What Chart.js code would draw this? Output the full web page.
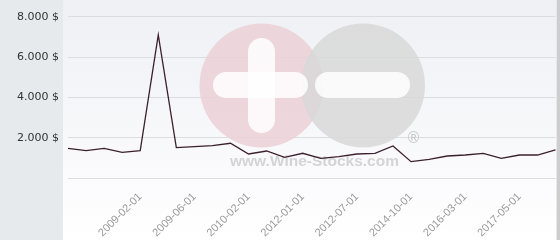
<!DOCTYPE html>
<html>
<head>
<meta charset="utf-8">
<script src="https://cdn.jsdelivr.net/npm/chart.js@4"></script>
<style>
  html, body { margin: 0; padding: 0; background: #ffffff; }
  #wrap { position: relative; width: 560px; height: 240px; }
  canvas { display: block; }
</style>
</head>
<body>
<div id="wrap"><canvas id="c" width="560" height="240"></canvas></div>
<script>
// ---- data ----
const categories = [
  '2008-06-01','2008-09-01','2008-11-01','2008-12-01','2009-02-01','2009-03-01','2009-04-01',
  '2009-06-01','2009-09-01','2009-12-01','2010-02-01','2010-06-01','2011-05-01','2012-01-01',
  '2012-03-01','2012-05-01','2012-07-01','2013-01-01','2014-01-01','2014-10-01','2015-03-01',
  '2015-09-01','2016-03-01','2016-07-01','2017-01-01','2017-05-01','2017-10-01','2018-03-01'
];
const prices = [
  1485, 1366, 1485, 1287, 1366, 7100, 1515,
  1564, 1614, 1733, 1203, 1351, 1040, 1238,
  990, 1069, 1203, 1238, 1600, 822, 941,
  1104, 1153, 1238, 990, 1153, 1153, 1401
];
const shownXLabels = [
  '2009-02-01','2009-06-01','2010-02-01','2012-01-01',
  '2012-07-01','2014-10-01','2016-03-01','2017-05-01'
];
const yTickValues = [0, 2000, 4000, 6000, 8000];
const watermarkText = 'www.Wine-Stocks.com';

function fmt(v) {
  return String(v).replace(/\B(?=(\d{3})+(?!\d))/g, '.') + ' $';
}
function zeroPad(scale) {
  scale.paddingLeft = 0; scale.paddingRight = 0;
  scale.paddingTop = 0; scale.paddingBottom = 0;
}

const bgPlugin = {
  id: 'bg',
  beforeDraw(chart) {
    const ctx = chart.ctx;
    ctx.save();
    const g = ctx.createLinearGradient(0, 0, 0, 240);
    g.addColorStop(0, '#eef0f4');
    g.addColorStop(0.75, '#fbfbfd');
    g.addColorStop(1, '#ffffff');
    ctx.fillStyle = g;
    ctx.fillRect(63, 0, 494, 240);
    ctx.fillStyle = '#e6eaed';
    ctx.fillRect(0, 0, 63, 240);
    ctx.fillStyle = '#e8e8e8';
    ctx.fillRect(556, 0, 1, 240);
    ctx.fillStyle = '#cdcdcd';
    ctx.fillRect(557, 0, 3, 240);
    ctx.restore();
  }
};

function pill(ctx, x1, x2, cy, h) {
  const r = h / 2;
  ctx.beginPath();
  ctx.moveTo(x1 + r, cy - r);
  ctx.lineTo(x2 - r, cy - r);
  ctx.arc(x2 - r, cy, r, -Math.PI / 2, Math.PI / 2);
  ctx.lineTo(x1 + r, cy + r);
  ctx.arc(x1 + r, cy, r, Math.PI / 2, Math.PI * 1.5);
  ctx.closePath();
  ctx.fill();
}
function vpill(ctx, cx, y1, y2, w) {
  const r = w / 2;
  ctx.beginPath();
  ctx.moveTo(cx + r, y1 + r);
  ctx.lineTo(cx + r, y2 - r);
  ctx.arc(cx, y2 - r, r, 0, Math.PI);
  ctx.lineTo(cx - r, y1 + r);
  ctx.arc(cx, y1 + r, r, Math.PI, Math.PI * 2);
  ctx.closePath();
  ctx.fill();
}

const watermarkPlugin = {
  id: 'watermark',
  beforeDatasetsDraw(chart) {
    const ctx = chart.ctx;
    ctx.save();
    ctx.globalAlpha = 0.85;
    ctx.fillStyle = '#ebd0d6';
    ctx.beginPath(); ctx.arc(261.5, 85.5, 62, 0, Math.PI * 2); ctx.fill();
    ctx.fillStyle = '#ffffff';
    vpill(ctx, 261.5, 38, 133, 27);
    ctx.fillStyle = '#d8d8d8';
    ctx.beginPath(); ctx.arc(363, 85.5, 62, 0, Math.PI * 2); ctx.fill();
    ctx.fillStyle = '#ffffff';
    pill(ctx, 213, 308, 85, 26);
    pill(ctx, 315, 410, 85, 26);
    ctx.globalAlpha = 1;
    ctx.fillStyle = '#d4d4d4';
    ctx.font = 'bold 15.5px "Liberation Sans", Arial, sans-serif';
    ctx.textAlign = 'left';
    ctx.textBaseline = 'alphabetic';
    ctx.fillText(watermarkText, 230, 166);
    ctx.fillStyle = '#cacaca';
    ctx.font = '15px "DejaVu Sans", sans-serif';
    ctx.textAlign = 'center';
    ctx.textBaseline = 'middle';
    ctx.fillText('®', 413.5, 139.5);
    ctx.restore();
  }
};

new Chart(document.getElementById('c'), {
  type: 'line',
  data: {
    labels: categories,
    datasets: [{
      data: prices,
      borderColor: '#3b1f2d',
      borderWidth: 1.3,
      pointRadius: 0,
      pointHoverRadius: 0,
      tension: 0,
      fill: false
    }]
  },
  options: {
    responsive: false,
    animation: false,
    events: [],
    layout: { padding: { left: 0, right: 4.5, top: 0.5, bottom: 0 } },
    plugins: { legend: { display: false }, tooltip: { enabled: false } },
    scales: {
      x: {
        offset: false,
        grid: { display: false, drawTicks: false },
        border: { display: false },
        afterFit(scale) { scale.height = 61.7; zeroPad(scale); },
        ticks: {
          autoSkip: false,
          maxRotation: 45,
          minRotation: 45,
          padding: 12,
          color: '#9a9a9a',
          font: { family: '"Liberation Sans", Arial, sans-serif', size: 11 },
          callback(value, index) {
            const lab = categories[index];
            return shownXLabels.includes(lab) ? lab : '';
          }
        }
      },
      y: {
        min: 0,
        max: 8800,
        afterFit(scale) { scale.width = 68; zeroPad(scale); },
        afterBuildTicks(scale) {
          scale.ticks = yTickValues.map(v => ({ value: v }));
        },
        grid: { color: '#dcdde1', lineWidth: 1, drawTicks: false },
        border: { display: false },
        ticks: {
          padding: 9,
          color: '#333333',
          font: { family: '"DejaVu Sans", sans-serif', size: 11 },
          callback(v) { return v === 0 ? '' : fmt(v); }
        }
      }
    }
  },
  plugins: [bgPlugin, watermarkPlugin]
});
</script>
</body>
</html>
